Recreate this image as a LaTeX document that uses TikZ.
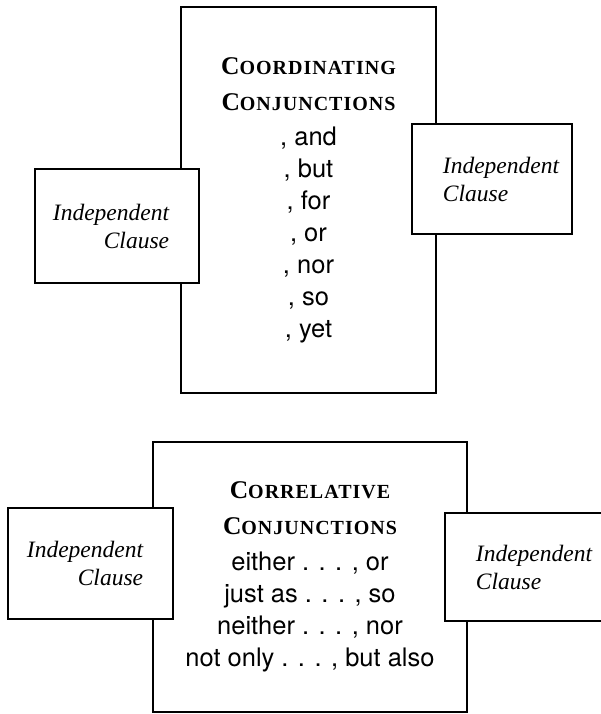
\documentclass[tikz,border=0pt]{standalone}
\usepackage{fontspec}
\setmainfont{Liberation Serif}
\setsansfont{TeX Gyre Heros}
\newfontfamily\capsfont[LetterSpace=5]{Liberation Serif}
\usetikzlibrary{positioning}

\newcommand{\headline}[2]{{\capsfont\bfseries\fontsize{25.5}{25.5}\selectfont #1\fontsize{20}{20}\selectfont #2}}

\begin{document}
\begin{tikzpicture}[x=1pt, y=-1pt, line width=1.4pt,
    conj/.style = {draw, fill=white, rectangle, inner sep=0pt, align=center,
      font=\sffamily\fontsize{25.5}{32}\selectfont},
    lclause/.style = {draw, fill=white, rectangle, inner sep=0pt, align=right,
      font=\rmfamily\itshape\fontsize{23.5}{28}\selectfont},
    rclause/.style = {lclause, align=left}]
    \useasboundingbox (0,0) rectangle (601,714);

    % coordinating conjunctions
    \node[conj, minimum width=255, minimum height=386] (a) at (308.5,200)
        {\headline{C}{OORDINATING}\\[4pt]
         \headline{C}{ONJUNCTIONS}\\[3pt]
         , and\\ , but\\ , for\\ , or\\ , nor\\ , so\\ , yet};
    \node[lclause, minimum width=164, minimum height=114] (b) at (117,226)
        {Independent\kern12pt\\ Clause\kern12pt};
    \node[rclause, minimum width=160, minimum height=110] (c) at (492,179)
        {\kern18pt Independent\\ \kern18pt Clause};

    % correlative conjunctions
    \node[conj, minimum width=314, minimum height=270] (d) at (310,577)
        {\headline{C}{ORRELATIVE}\\[4pt]
         \headline{C}{ONJUNCTIONS}\\[3.5pt]
         either . . . , or\\ just as . . . , so\\
         neither . . . , nor\\ not only . . . , but also};
    \node[lclause, minimum width=165, minimum height=111] (e) at (90.5,563.5)
        {Independent\kern11pt\\ Clause\kern11pt};
    \node[rclause, minimum width=158, minimum height=108] (f) at (524,567)
        {\kern20pt Independent\\ \kern20pt Clause};
\end{tikzpicture}
\end{document}
